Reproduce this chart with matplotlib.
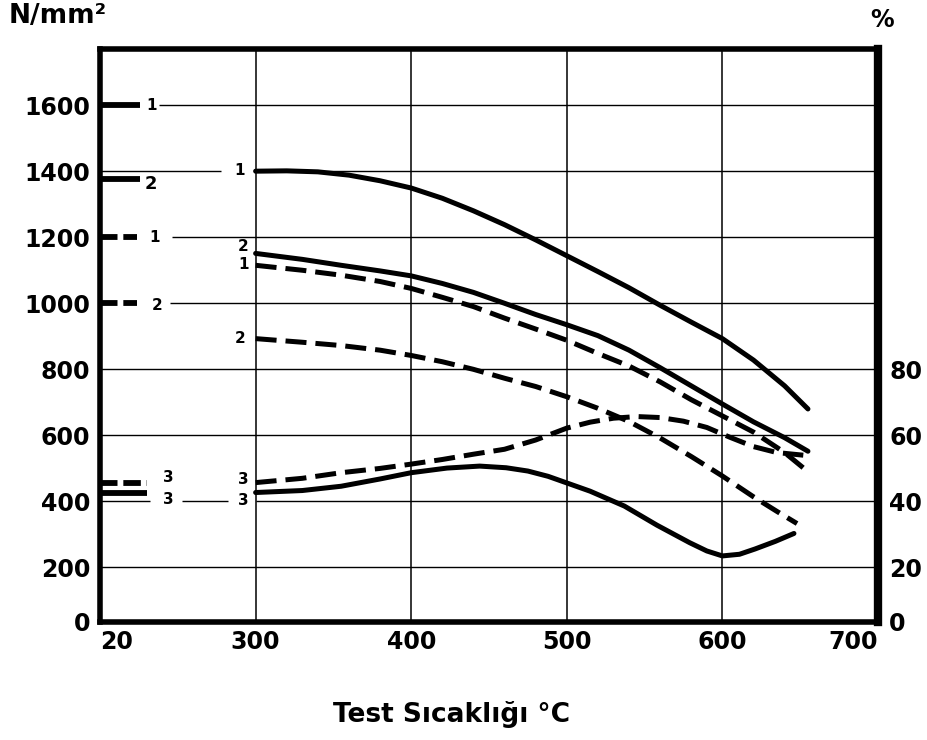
import numpy as np
import matplotlib
matplotlib.use("Agg")
import matplotlib.pyplot as plt

plt.rcParams['font.family'] = ['DejaVu Sans']

# temperatures in degC, strengths in N/mm2 (percent curve stored x10)
t_s1 = [300, 320, 340, 360, 380, 400, 420, 440, 460, 480, 500, 520, 540, 560,
        580, 600, 620, 640, 655]
v_s1 = [1400, 1401, 1398, 1388, 1371, 1349, 1318, 1280, 1238, 1192, 1144, 1096,
        1047, 994, 943, 893, 828, 750, 680]

t_s2 = [300, 330, 355, 380, 400, 420, 440, 460, 480, 500, 520, 540, 560, 580,
        600, 620, 640, 655]
v_s2 = [1151, 1133, 1115, 1098, 1083, 1060, 1033, 1000, 966, 935, 902, 858, 805,
        750, 695, 641, 593, 552]

t_d1 = [300, 330, 355, 380, 400, 420, 440, 460, 480, 500, 520, 540, 560, 580,
        600, 620, 640, 655]
v_d1 = [1115, 1100, 1085, 1066, 1045, 1018, 990, 955, 922, 888, 848, 810, 762,
        708, 659, 610, 548, 490]

t_d2 = [300, 330, 355, 380, 400, 420, 440, 460, 480, 500, 520, 540, 560, 580,
        600, 620, 635, 648]
v_d2 = [893, 882, 872, 858, 842, 823, 800, 773, 748, 717, 682, 642, 592, 536,
        477, 414, 370, 333]

t_d3 = [300, 330, 355, 380, 400, 420, 440, 460, 480, 500, 515, 530, 545, 560,
        575, 590, 605, 620, 635, 652]
v_d3 = [457, 470, 487, 500, 513, 527, 543, 558, 586, 622, 640, 652, 657, 654,
        643, 624, 594, 566, 548, 540]

t_s3 = [300, 330, 355, 380, 400, 423, 444, 461, 475, 488, 500, 515, 537, 558,
        579, 590, 600, 611, 621, 634, 646]
v_s3 = [427, 433, 446, 468, 487, 501, 507, 502, 492, 476, 456, 431, 386, 328,
        275, 250, 235, 240, 256, 279, 303]

# values at 20 degC (short marks at the left edge)
room_solid = {"1": 1600, "2": 1375, "3": 425}
room_dash = {"1": 1200, "2": 1000, "3": 455}

x_labels = ["20", "300", "400", "500", "600", "700"]
y_left = [0, 200, 400, 600, 800, 1000, 1200, 1400, 1600]
y_right = [0, 20, 40, 60, 80]


def pos(t):
    # broken axis: 20..300 takes one division, then 100 degC per division
    t = np.asarray(t, dtype=float)
    return 1 + (t - 300) / 100


fig = plt.figure(figsize=(9.27, 7.40), dpi=100)
ax = fig.add_axes([0.1079, 0.1595, 0.8392, 0.7743])
ylo, yhi = 35, 1770
ax.set_xlim(0, 5)
ax.set_ylim(ylo, yhi)

# grid, with gaps where the small labels sit
gaps = {1600: [(0, 0.38)], 1400: [(0.78, 1.0)], 1200: [(0, 0.46)],
        1000: [(0, 0.45)], 400: [(0.32, 0.53), (0.82, 1.0)]}
for lvl in y_left[1:]:
    start = 0
    for a, b in gaps.get(lvl, []):
        if a > start:
            ax.hlines(lvl, start, a, color="black", lw=1.0, zorder=1)
        start = b
    ax.hlines(lvl, start, 5, color="black", lw=1.0, zorder=1)
for p in range(1, 5):
    ax.axvline(p, color="black", lw=1.1, zorder=1)

solid = dict(color="black", lw=3.6, solid_capstyle="round", solid_joinstyle="round", zorder=3)
dash = dict(color="black", lw=3.6, linestyle=(0, (4.2, 1.8)), dash_capstyle="butt",
            dash_joinstyle="round", zorder=3)

ax.plot(pos(t_s1), v_s1, **solid)
ax.plot(pos(t_s2), v_s2, **solid)
ax.plot(pos(t_s3), v_s3, **solid)
ax.plot(pos(t_d1), v_d1, **dash)
ax.plot(pos(t_d2), v_d2, **dash)
ax.plot(pos(t_d3), v_d3, **dash)

for k, v in room_solid.items():
    stub = 0.3 if k == "3" else 0.26
    ax.plot([0, stub], [v, v], color="black", lw=4.2, solid_capstyle="butt", zorder=3)
for k, v in room_dash.items():
    stub = 0.3 if k == "3" else 0.24
    ax.plot([0, stub], [v, v], color="black", lw=4.2, linestyle=(0, (3.0, 1.0)),
            dash_capstyle="butt", zorder=3)

lab = dict(fontsize=11, fontweight="bold", ha="center", va="center", zorder=4)
# labels at the 20 degC marks
ax.text(0.33, 1600, "1", **lab)
ax.text(0.33, 1362, "2", fontsize=13, fontweight="bold", ha="center", va="center")
ax.text(0.35, 1200, "1", **lab)
ax.text(0.37, 993, "2", **lab)
ax.text(0.44, 472, "3", **lab)
ax.text(0.44, 405, "3", **lab)
# labels at the start of the curves
ax.text(0.90, 1402, "1", **lab)
ax.text(0.92, 1172, "2", **lab)
ax.text(0.92, 1116, "1", **lab)
ax.text(0.90, 893, "2", **lab)
ax.text(0.92, 466, "3", **lab)
ax.text(0.92, 404, "3", **lab)

# axes look
for s in ["left", "bottom", "top"]:
    ax.spines[s].set_linewidth(4.0)
ax.spines["right"].set_linewidth(6.0)

tick_font = dict(fontsize=17, fontweight="bold")
ax.set_xticks(range(6))
ax.set_xticklabels(x_labels, **tick_font)
xl = ax.get_xticklabels()
xl[0].set_horizontalalignment("left")
xl[-1].set_horizontalalignment("right")
ax.set_yticks([ylo] + y_left[1:])
ax.set_yticklabels([str(v) for v in y_left], **tick_font)
ax.tick_params(axis="both", length=0)
ax.tick_params(axis="x", pad=6)
ax.tick_params(axis="y", pad=7)

ax2 = ax.twinx()
ax2.set_ylim(ylo / 10, yhi / 10)
ax2.set_yticks([ylo / 10] + y_right[1:])
ax2.set_yticklabels([str(v) for v in y_right], **tick_font)
ax2.tick_params(axis="y", length=0, pad=8)
for s in ax2.spines.values():
    s.set_visible(False)

fig.text(0.009, 0.978, "N/mm²", fontsize=19, fontweight="bold", ha="left", va="center")
fig.text(0.951, 0.973, "%", fontsize=17, fontweight="bold", ha="center", va="center")
fig.text(0.487, 0.034, "Test Sıcaklığı °C", fontsize=19, fontweight="bold",
         ha="center", va="center")

fig.savefig("out.png", dpi=100, facecolor="white")
